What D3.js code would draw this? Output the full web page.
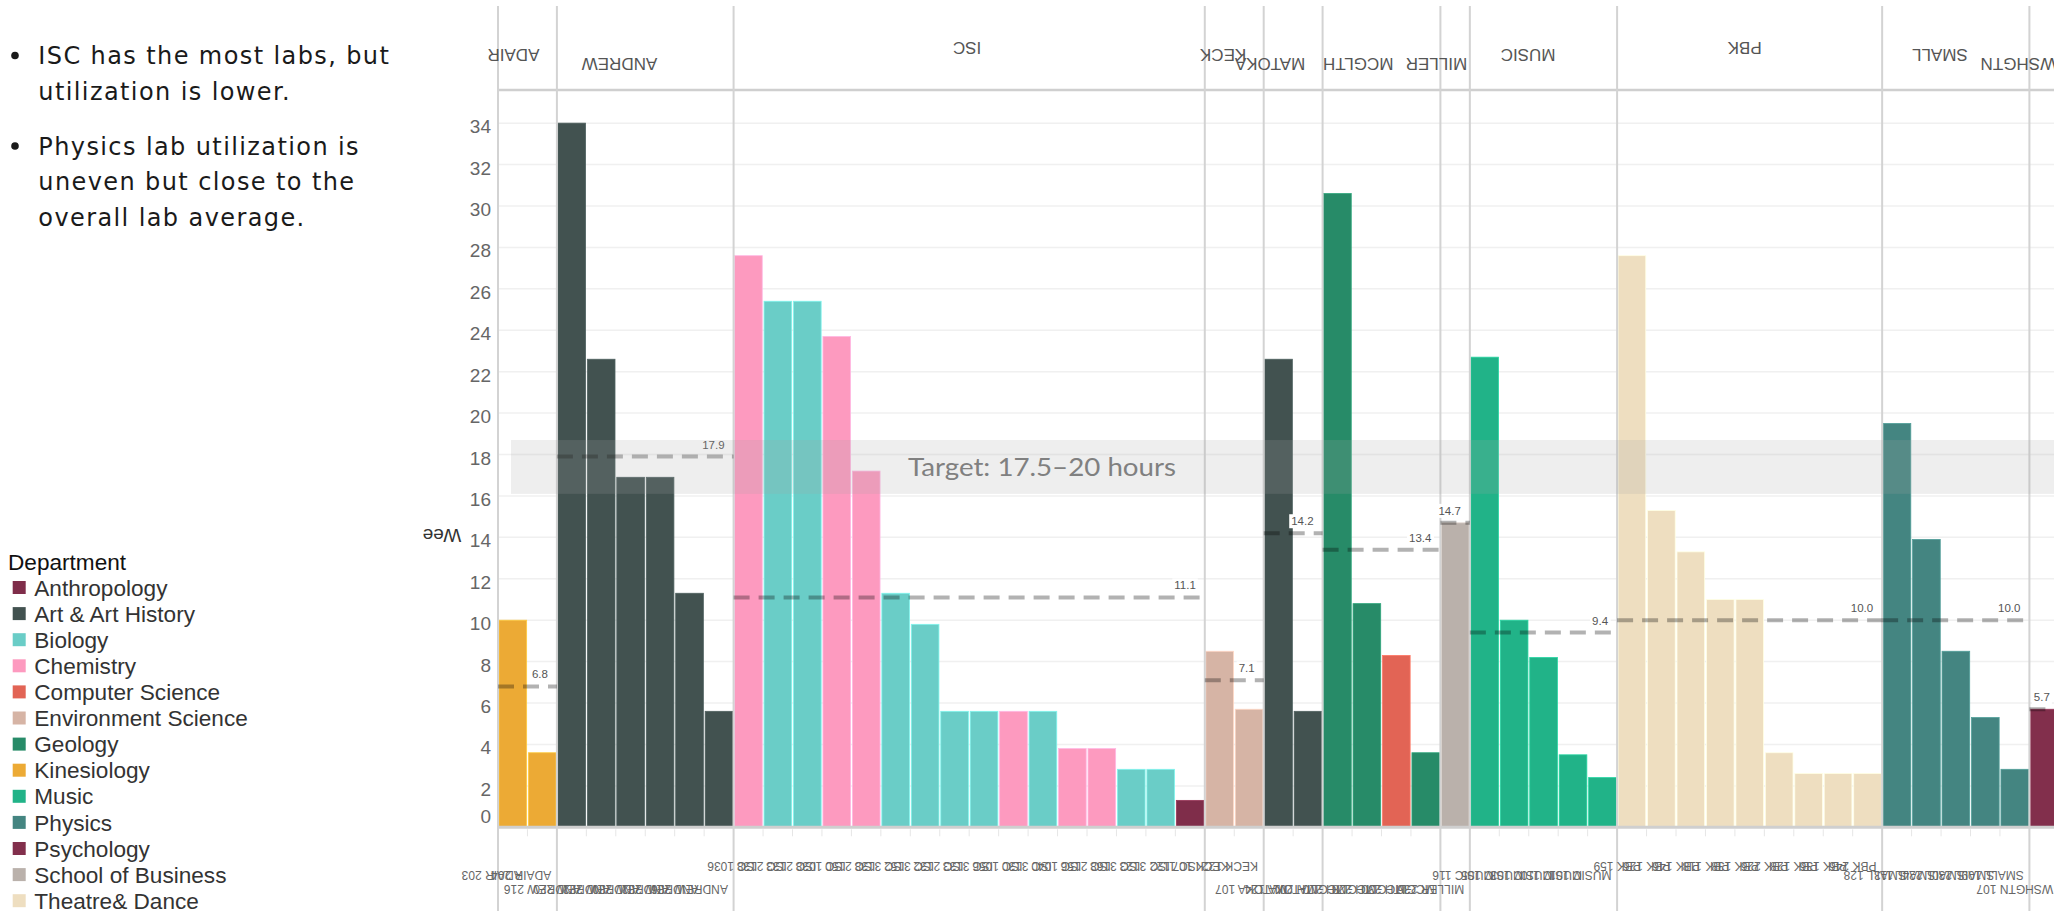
<!DOCTYPE html>
<html>
<head>
<meta charset="utf-8">
<script src="https://cdn.jsdelivr.net/npm/d3@7"></script>
<style>
  body { margin: 0; background: #fff; overflow: hidden; }
  svg { display: block; }
</style>
</head>
<body>
<div id="chart"></div>
<script>
'use strict';

// rooms, one bar each, in drawing order (building is the first word)
var rooms = [
  "ADAIR 203", "ADAIR 204",
  "ANDREW 216", "ANDREW 220", "ANDREW 222", "ANDREW 230", "ANDREW 232", "ANDREW 236",
  "ISC 1036", "ISC 2138", "ISC 2133", "ISC 1038", "ISC 2150", "ISC 3138", "ISC 3152", "ISC 2132",
  "ISC 3133", "ISC 1056", "ISC 3130", "ISC 1040", "ISC 2156", "ISC 3168", "ISC 3123", "ISC 1122",
  "KECK 107", "KECK 122",
  "MATOKA 107", "MATOKA 124",
  "MCGLTH 201", "MCGLTH 210", "MCGLTH 228", "MCGLTH 230",
  "MILLER 236",
  "MUSIC 116", "MUSIC 105", "MUSIC 103", "MUSIC 110", "MUSIC 101",
  "PBK 159", "PBK 126", "PBK 146", "PBK 118", "PBK 138", "PBK 226", "PBK 128", "PBK 136", "PBK 246",
  "SMALL 128", "SMALL 113", "SMALL 224", "SMALL 230", "SMALL 109",
  "WSHGTN 107"
];

var roomDepartment = [
  "Kinesiology", "Kinesiology",
  "Art & Art History", "Art & Art History", "Art & Art History", "Art & Art History", "Art & Art History", "Art & Art History",
  "Chemistry", "Biology", "Biology", "Chemistry", "Chemistry", "Biology", "Biology", "Biology",
  "Biology", "Chemistry", "Biology", "Chemistry", "Chemistry", "Biology", "Biology", "Anthropology",
  "Environment Science", "Environment Science",
  "Art & Art History", "Art & Art History",
  "Geology", "Geology", "Computer Science", "Geology",
  "School of Business",
  "Music", "Music", "Music", "Music", "Music",
  "Theatre& Dance", "Theatre& Dance", "Theatre& Dance", "Theatre& Dance", "Theatre& Dance",
  "Theatre& Dance", "Theatre& Dance", "Theatre& Dance", "Theatre& Dance",
  "Physics", "Physics", "Physics", "Physics", "Physics",
  "Psychology"
];

var weeklyHours = [
  10.0, 3.6,
  34.0, 22.6, 16.9, 16.9, 11.3, 5.6,
  27.6, 25.4, 25.4, 23.7, 17.2, 11.3, 9.8, 5.6, 5.6, 5.6, 5.6, 3.8, 3.8, 2.8, 2.8, 1.3,
  8.5, 5.7,
  22.6, 5.6,
  30.6, 10.8, 8.3, 3.6,
  14.7,
  22.7, 10.0, 8.2, 3.5, 2.4,
  27.6, 15.3, 13.3, 11.0, 11.0, 3.6, 2.6, 2.6, 2.6,
  19.5, 13.9, 8.5, 5.3, 2.8,
  5.7
];

var buildings = ["ADAIR", "ANDREW", "ISC", "KECK", "MATOKA", "MCGLTH", "MILLER", "MUSIC", "PBK", "SMALL", "WSHGTN"];
var buildingAverages = [6.8, 17.9, 11.1, 7.1, 14.2, 13.4, 14.7, 9.4, 10.0, 10.0, 5.7];

var departments = ["Anthropology", "Art & Art History", "Biology", "Chemistry", "Computer Science",
  "Environment Science", "Geology", "Kinesiology", "Music", "Physics", "Psychology",
  "School of Business", "Theatre& Dance"];
var departmentColors = ["#7f2d4a", "#425250", "#6acdc7", "#fd9abf", "#e26455",
  "#d6b4a5", "#278b68", "#ecaa35", "#21b388", "#448581", "#822f4c",
  "#bab1ab", "#eedec0"];

var yTicks = [0, 2, 4, 6, 8, 10, 12, 14, 16, 18, 20, 22, 24, 26, 28, 30, 32, 34];
var targetBand = [16.1, 18.7];
var targetLabel = "Target: 17.5\u201320 hours";
var notes = [
  ["ISC has the most labs, but", "utilization is lower."],
  ["Physics lab utilization is", "uneven but close to the", "overall lab average."]
];

function labUtilization() {
  var scope = {};
  var exports = {};

  scope.cw = 2054;
  scope.ch = 911;
  scope.left = 498;
  scope.top = 90;
  scope.base = 827.3;
  scope.barWidth = 29.45;
  scope.xScale = undefined;
  scope.yScale = undefined;
  scope.color = undefined;
  scope.panes = [];

  scope.appendSvg = function(div) {
    return d3.select(div).append("svg")
      .attr("width", scope.cw)
      .attr("height", scope.ch)
      .style("font-family", "'Liberation Sans', Arial, sans-serif");
  };

  scope.createScales = function() {
    scope.xScale = d3.scaleBand()
      .domain(d3.range(rooms.length))
      .range([scope.left, scope.left + rooms.length * scope.barWidth]);
    scope.yScale = d3.scaleLinear()
      .domain([0, 35.6])
      .range([scope.base, scope.top]);
    scope.color = d3.scaleOrdinal().domain(departments).range(departmentColors);

    // one pane per building
    scope.panes = buildings.map(function(b, i) {
      var idx = [];
      rooms.forEach(function(r, j) { if (r.split(" ")[0] === b) idx.push(j); });
      return {
        name: b,
        avg: buildingAverages[i],
        x0: scope.xScale(idx[0]),
        x1: scope.xScale(idx[idx.length - 1]) + scope.xScale.bandwidth()
      };
    });
  };

  // text turned upside down around (x, y)
  scope.flip = function(x, y) {
    return "translate(" + x + "," + y + ") rotate(180)";
  };

  scope.appendGrid = function(svg) {
    svg.append("g").selectAll("line")
      .data(yTicks)
      .enter().append("line")
      .attr("x1", scope.left).attr("x2", scope.cw)
      .attr("y1", scope.yScale).attr("y2", scope.yScale)
      .attr("stroke", "#f0f0f0")
      .attr("stroke-width", 1.5);
  };

  scope.appendBars = function(svg) {
    var bw = scope.xScale.bandwidth();
    svg.append("g").selectAll("rect")
      .data(weeklyHours)
      .enter().append("rect")
      .attr("x", function(d, i) { return scope.xScale(i) + 1; })
      .attr("width", bw - 1.8)
      .attr("y", function(d) { return scope.yScale(d); })
      .attr("height", function(d) { return scope.base - scope.yScale(d); })
      .attr("fill", function(d, i) { return scope.color(roomDepartment[i]); })
      .attr("stroke", function(d, i) { return d3.color(scope.color(roomDepartment[i])).brighter(0.5); })
      .attr("stroke-width", 0.8);
  };

  scope.appendFrame = function(svg) {
    // small ticks between bars under the baseline
    svg.append("g").selectAll("line")
      .data(d3.range(1, rooms.length))
      .enter().append("line")
      .attr("x1", function(i) { return scope.xScale(i); })
      .attr("x2", function(i) { return scope.xScale(i); })
      .attr("y1", scope.base + 2).attr("y2", scope.base + 9)
      .attr("stroke", "#e6e6e6").attr("stroke-width", 1);

    svg.append("line")
      .attr("x1", scope.left).attr("x2", scope.cw)
      .attr("y1", scope.top).attr("y2", scope.top)
      .attr("stroke", "#cfcfcf").attr("stroke-width", 2.5);
    svg.append("line")
      .attr("x1", scope.left).attr("x2", scope.cw)
      .attr("y1", scope.base).attr("y2", scope.base)
      .attr("stroke", "#cfcfcf").attr("stroke-width", 3);

    svg.append("g").selectAll("line")
      .data(scope.panes)
      .enter().append("line")
      .attr("x1", function(p) { return p.x0; })
      .attr("x2", function(p) { return p.x0; })
      .attr("y1", 6).attr("y2", scope.ch)
      .attr("stroke", "#d3d3d3").attr("stroke-width", 2);
  };

  scope.appendAverages = function(svg) {
    var g = svg.append("g");
    g.selectAll("line")
      .data(scope.panes)
      .enter().append("line")
      .attr("x1", function(p) { return p.x0; })
      .attr("x2", function(p) { return p.x1; })
      .attr("y1", function(p) { return scope.yScale(p.avg); })
      .attr("y2", function(p) { return scope.yScale(p.avg); })
      .attr("stroke", "rgba(0,0,0,0.3)")
      .attr("stroke-width", 4)
      .attr("stroke-dasharray", "16,9");

    var lab = g.selectAll("g.avg")
      .data(scope.panes)
      .enter().append("g")
      .attr("class", "avg");
    lab.append("rect").attr("fill", "#fff");
    lab.append("text")
      .attr("x", function(p) { return p.x1 - 9; })
      .attr("y", function(p) { return scope.yScale(p.avg) - 12; })
      .attr("dy", "0.35em")
      .attr("text-anchor", "end")
      .attr("font-size", 11.5)
      .attr("fill", "#555")
      .text(function(p) { return d3.format(".1f")(p.avg); });
    lab.each(function() {
      var box = d3.select(this).select("text").node().getBBox();
      d3.select(this).select("rect")
        .attr("x", box.x - 2).attr("y", box.y - 1)
        .attr("width", box.width + 4).attr("height", box.height + 2);
    });
  };

  scope.appendTarget = function(svg) {
    var y0 = scope.yScale(targetBand[1]);
    var y1 = scope.yScale(targetBand[0]);
    svg.append("rect")
      .attr("x", scope.left + 13)
      .attr("y", y0)
      .attr("width", scope.cw - scope.left - 13)
      .attr("height", y1 - y0)
      .attr("fill", "rgba(165,165,165,0.19)");
    svg.append("text")
      .attr("x", 908)
      .attr("y", scope.yScale(d3.mean(targetBand)) + 9)
      .attr("font-family", "Lato, sans-serif")
      .attr("font-size", 25)
      .attr("fill", "#808080")
      .attr("textLength", 268)
      .attr("lengthAdjust", "spacingAndGlyphs")
      .text(targetLabel);
  };

  scope.appendAxes = function(svg) {
    var yAxis = d3.axisLeft(scope.yScale).tickValues(yTicks).tickSize(0).tickPadding(0);
    var ax = svg.append("g")
      .attr("transform", "translate(491,0)")
      .call(yAxis);
    ax.select(".domain").remove();
    ax.selectAll("text")
      .attr("font-size", 19)
      .attr("font-family", "'Liberation Sans', Arial, sans-serif")
      .attr("fill", "#666")
      .attr("dy", function(d) { return d === 0 ? "-0.25em" : "0.5em"; });

    svg.append("text")
      .attr("transform", scope.flip(442, 536))
      .attr("text-anchor", "middle")
      .attr("dy", "0.35em")
      .attr("font-size", 19)
      .attr("fill", "#333")
      .text("Wee");

    // building names in the header, upside down
    svg.append("g").selectAll("text")
      .data(scope.panes)
      .enter().append("text")
      .attr("transform", function(p) {
        var n = p.name.length;
        var y = n <= 3 ? 48 : (n <= 5 ? 55 : 64);
        return scope.flip((p.x0 + p.x1) / 2 + 12, y);
      })
      .attr("dy", "0.35em")
      .attr("font-size", 17)
      .attr("fill", "#555")
      .text(function(p) { return p.name; });

    // room names under the bars, upside down
    var bw = scope.xScale.bandwidth();
    svg.append("g").selectAll("text")
      .data(rooms)
      .enter().append("text")
      .attr("transform", function(r, i) {
        var n = r.length;
        var y = n <= 8 ? 866 : (n === 9 ? 875 : 889);
        return scope.flip(scope.xScale(i) + bw / 2 + 9, y);
      })
      .attr("dy", "0.35em")
      .attr("font-size", 12)
      .attr("fill", "#666")
      .text(function(r) { return r; });
  };

  scope.appendLegend = function(svg) {
    var g = svg.append("g");
    g.append("text")
      .attr("x", 8).attr("y", 570)
      .attr("font-size", 22.6)
      .attr("fill", "#111")
      .text("Department");
    var item = g.selectAll("g")
      .data(departments)
      .enter().append("g")
      .attr("transform", function(d, i) { return "translate(0," + (587.5 + i * 26.1) + ")"; });
    item.append("rect")
      .attr("x", 12.7).attr("y", -6.5)
      .attr("width", 13).attr("height", 13)
      .attr("fill", scope.color);
    item.append("text")
      .attr("x", 34.3)
      .attr("dy", "0.36em")
      .attr("font-size", 22.6)
      .attr("fill", "#333")
      .text(function(d) { return d; });
  };

  scope.appendNotes = function(svg) {
    var g = svg.append("g")
      .attr("font-family", "'DejaVu Sans', sans-serif")
      .attr("font-size", 24)
      .attr("fill", "#1a1a1a");
    var y = 64;
    notes.forEach(function(par) {
      g.append("circle").attr("cx", 15).attr("cy", y - 8.5).attr("r", 3.8).attr("fill", "#1a1a1a");
      par.forEach(function(line) {
        g.append("text")
          .attr("x", 38.3).attr("y", y)
          .attr("letter-spacing", 1.4)
          .text(line);
        y += 35.5;
      });
      y += 19.5;
    });
  };

  exports.run = function(div) {
    var svg = scope.appendSvg(div);
    scope.createScales();
    scope.appendGrid(svg);
    scope.appendBars(svg);
    scope.appendFrame(svg);
    scope.appendAverages(svg);
    scope.appendTarget(svg);
    scope.appendAxes(svg);
    scope.appendLegend(svg);
    scope.appendNotes(svg);
  };

  return exports;
}

labUtilization().run("#chart");
</script>
</body>
</html>
